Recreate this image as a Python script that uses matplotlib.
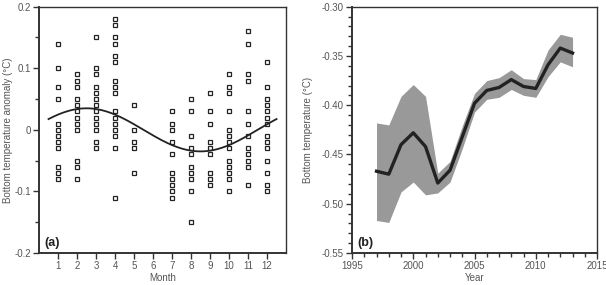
import numpy as np
import matplotlib
matplotlib.use('Agg')
import matplotlib.pyplot as plt
from matplotlib.ticker import MultipleLocator

plt.rcParams['font.family'] = ['Liberation Sans', 'DejaVu Sans']

# (a) monthly bottom temperature anomalies (°C)
anomalias = {
    1: [0.14, 0.10, 0.07, 0.05, 0.01, 0.0, -0.01, -0.02, -0.03, -0.06, -0.07, -0.08],
    2: [0.09, 0.08, 0.07, 0.05, 0.04, 0.03, 0.02, 0.01, 0.0, -0.05, -0.06, -0.08],
    3: [0.15, 0.10, 0.09, 0.07, 0.06, 0.05, 0.04, 0.03, 0.02, 0.01, 0.0, -0.02, -0.03],
    4: [0.18, 0.17, 0.15, 0.14, 0.12, 0.11, 0.08, 0.07, 0.06, 0.03, 0.02, 0.01, 0.0,
        -0.01, -0.03, -0.11],
    5: [0.04, 0.0, -0.02, -0.03, -0.07],
    7: [0.03, 0.01, 0.0, -0.02, -0.04, -0.07, -0.08, -0.09, -0.10, -0.11],
    8: [0.05, 0.03, -0.01, -0.03, -0.04, -0.06, -0.07, -0.08, -0.10, -0.15],
    9: [0.06, 0.03, 0.01, -0.02, -0.03, -0.04, -0.07, -0.08, -0.09],
    10: [0.09, 0.07, 0.06, 0.03, 0.0, -0.01, -0.02, -0.03, -0.05, -0.06, -0.07,
         -0.08, -0.10],
    11: [0.16, 0.14, 0.09, 0.08, 0.03, 0.01, -0.01, -0.03, -0.04, -0.05, -0.06, -0.09],
    12: [0.11, 0.07, 0.05, 0.04, 0.03, 0.02, 0.01, -0.01, -0.02, -0.03, -0.05,
         -0.07, -0.09, -0.10],
}

# ajuste armónico anual (amplitud, mes del máximo)
amplitud = 0.035
mes_max = 2.5

# (b) annual bottom temperature and its uncertainty band
anios = [1997, 1998, 1999, 2000, 2001, 2002, 2003, 2004, 2005, 2006, 2007,
         2008, 2009, 2010, 2011, 2012, 2013]
temp = [-0.467, -0.470, -0.440, -0.428, -0.442, -0.479, -0.466, -0.432, -0.398,
        -0.385, -0.382, -0.374, -0.381, -0.383, -0.359, -0.342, -0.347]
temp_sup = [-0.418, -0.420, -0.391, -0.379, -0.391, -0.469, -0.457, -0.421, -0.388,
            -0.375, -0.372, -0.364, -0.373, -0.374, -0.344, -0.328, -0.331]
temp_inf = [-0.517, -0.519, -0.488, -0.478, -0.491, -0.489, -0.478, -0.444, -0.407,
            -0.394, -0.392, -0.384, -0.390, -0.392, -0.371, -0.356, -0.361]

gris = '#555555'
fig = plt.figure(figsize=(6.06, 2.85), dpi=100)
ax1 = fig.add_axes([0.0644, 0.1123, 0.4076, 0.8642])
ax2 = fig.add_axes([0.5809, 0.1123, 0.4043, 0.8642])

# Panel (a)
for mes, vals in anomalias.items():
    ax1.plot([mes] * len(vals), vals, linestyle='none', marker='s', ms=3.0,
             mfc='white', mec='#222222', mew=0.9)
t = np.linspace(0.5, 12.5, 200)
ax1.plot(t, amplitud * np.cos(2 * np.pi * (t - mes_max) / 12), color='#222222', lw=1.3)
ax1.set_xlim(0, 13)
ax1.set_ylim(-0.2, 0.2)
ax1.set_xticks(range(1, 13))
ax1.set_yticks([-0.2, -0.1, 0, 0.1, 0.2])
ax1.set_yticklabels(['-0.2', '-0.1', '0', '0.1', '0.2'])
ax1.yaxis.set_minor_locator(MultipleLocator(0.05))
ax1.set_xlabel('Month', fontsize=7, color=gris, labelpad=1)
ax1.set_ylabel('Bottom temperature anomaly (°C)', fontsize=7, color=gris, labelpad=1)
ax1.text(0.02, 0.03, '(a)', transform=ax1.transAxes, fontsize=9, fontweight='bold',
         color='#222222')

# Panel (b)
ax2.fill_between(anios, temp_inf, temp_sup, color='#999999', lw=0)
ax2.plot(anios, temp, color='#222222', lw=2.4)
ax2.set_xlim(1995, 2015)
ax2.set_ylim(-0.55, -0.30)
ax2.xaxis.set_major_locator(MultipleLocator(5))
ax2.xaxis.set_minor_locator(MultipleLocator(1))
ax2.yaxis.set_major_locator(MultipleLocator(0.05))
ax2.yaxis.set_minor_locator(MultipleLocator(0.01))
ax2.yaxis.set_major_formatter(plt.FormatStrFormatter('%.2f'))
ax2.set_xlabel('Year', fontsize=7, color=gris, labelpad=1)
ax2.set_ylabel('Bottom temperature (°C)', fontsize=7, color=gris, labelpad=6)
ax2.text(0.02, 0.03, '(b)', transform=ax2.transAxes, fontsize=9, fontweight='bold',
         color='#222222')

for ax in (ax1, ax2):
    for s in ax.spines.values():
        s.set_color('#333333')
        s.set_linewidth(1.0)
    ax.spines['left'].set_linewidth(1.4)
    ax.spines['bottom'].set_linewidth(1.4)
    ax.tick_params(which='both', direction='out', color='#333333', width=1.0,
                   labelsize=7, labelcolor=gris, pad=2)
    ax.tick_params(which='major', length=4)
    ax.tick_params(which='minor', length=3)

fig.savefig('out.png', dpi=100)
